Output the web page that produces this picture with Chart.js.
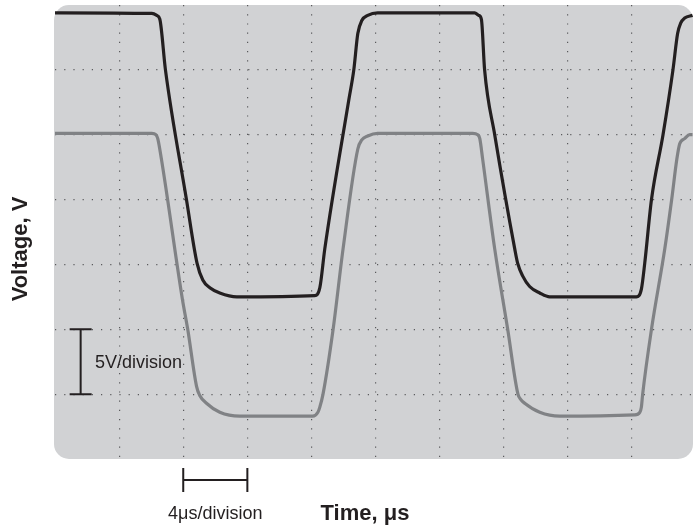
<!DOCTYPE html>
<html>
<head>
<meta charset="utf-8">
<script src="https://cdn.jsdelivr.net/npm/chart.js@4/dist/chart.umd.min.js"></script>
<style>
  html, body { margin: 0; padding: 0; background: #ffffff; }
  #wrap { width: 694px; height: 527px; }
</style>
</head>
<body>
<div id="wrap"><canvas id="scope"></canvas></div>
<script>
// time in microseconds, voltage in volts (4us/div, 5V/div)
var blackTime = [0, 6.04, 6.35, 6.54, 6.89, 8.20, 8.86, 9.22, 9.66, 10.28, 11.34, 16.2, 16.52, 16.83, 18.33, 18.64, 18.89, 19.14, 19.51, 20.13,
                 26.18, 26.43, 26.6, 26.8, 27.43, 28.68, 28.86, 29.18, 29.61, 30.24, 30.86, 36.27, 36.58, 36.79, 37.21, 37.93, 38.55, 38.84, 39.03, 39.28, 39.77];
var blackVolt = [34.4, 34.35, 34.2, 33.9, 30.0, 20.0, 15.1, 13.8, 13.2, 12.8, 12.5, 12.6, 13.2, 16.2, 27.7, 30.0, 32.8, 33.8, 34.2, 34.4,
                 34.4, 34.2, 33.9, 30.0, 25.0, 16.2, 15.1, 14.1, 13.3, 12.8, 12.5, 12.5, 13.1, 15.1, 20.0, 25.0, 30.0, 32.8, 33.6, 34.0, 34.2];

var grayTime = [0, 6.04, 6.29, 6.41, 6.64, 7.95, 8.28, 8.83, 9.03, 9.45, 10.28, 11.53, 16.08, 16.4, 16.52, 16.72, 17.35, 17.97, 18.89, 19.14, 19.51, 20.13,
                26.06, 26.37, 26.5, 26.68, 27.43, 28.24, 28.88, 29.05, 29.3, 30.24, 31.49, 36.16, 36.48, 36.58, 36.66, 37.21, 38.04, 38.47, 38.79, 38.97, 39.28, 39.59, 39.77];
var grayVolt = [25.1, 25.1, 25.0, 24.7, 23.1, 12.3, 10.0, 5.6, 4.9, 4.3, 3.6, 3.3, 3.3, 3.6, 4.0, 5.0, 10.0, 16.2, 23.9, 24.6, 24.9, 25.1,
                25.1, 25.0, 24.7, 23.1, 16.2, 10.0, 5.0, 4.6, 4.3, 3.6, 3.3, 3.4, 3.6, 4.0, 5.0, 10.0, 16.2, 20.0, 23.1, 24.3, 24.7, 25.0, 25.0];

var timeTicks = [0, 4, 8, 12, 16, 20, 24, 28, 32, 36];
var voltTicks = [0, 5, 10, 15, 20, 25, 30, 35];

function toPoints(xs, ys) {
    var pts = [];
    for (var i = 0; i < xs.length; i++) {
        pts.push({x: xs[i], y: ys[i]});
    }
    return pts;
}

// grey rounded screen behind the traces
var screenBg = {
    id: 'screenBg',
    beforeDraw: function(chart) {
        var a = chart.chartArea;
        var c = chart.ctx;
        c.save();
        c.fillStyle = '#d1d2d4';
        c.beginPath();
        c.roundRect(a.left - 1, a.top, a.right - a.left + 1, a.bottom - a.top, 15);
        c.fill();
        c.restore();
    }
};

// scale bars and axis labels
var labels = {
    id: 'labels',
    afterDraw: function(chart) {
        var c = chart.ctx;
        var xs = chart.scales.x;
        var ys = chart.scales.y;
        var a = chart.chartArea;
        c.save();
        c.strokeStyle = '#231f20';
        c.lineWidth = 2;

        // 5V/division bar
        var bx = xs.getPixelForValue(1.6);
        var y1 = ys.getPixelForValue(10);
        var y2 = ys.getPixelForValue(5);
        c.beginPath();
        c.moveTo(bx, y1); c.lineTo(bx, y2);
        c.moveTo(bx - 11, y1); c.lineTo(bx + 11, y1);
        c.moveTo(bx - 11, y2); c.lineTo(bx + 11, y2);
        c.stroke();

        // 4us/division bar
        var x1 = xs.getPixelForValue(8);
        var x2 = xs.getPixelForValue(12);
        var hy = a.bottom + 21;
        c.beginPath();
        c.moveTo(x1, hy); c.lineTo(x2, hy);
        c.moveTo(x1, hy - 12); c.lineTo(x1, hy + 12);
        c.moveTo(x2, hy - 12); c.lineTo(x2, hy + 12);
        c.stroke();

        c.fillStyle = '#231f20';
        c.font = '18px "Liberation Sans", Arial, sans-serif';
        c.textBaseline = 'middle';
        c.textAlign = 'left';
        c.fillText('5V/division', 95, (y1 + y2) / 2 + 1);
        c.textAlign = 'center';
        c.fillText('4\u03bcs/division', (x1 + x2) / 2, 514);

        c.font = 'bold 22px "Liberation Sans", Arial, sans-serif';
        c.fillText('Time, \u03bcs', 365, 514);
        c.translate(21, 249);
        c.rotate(-Math.PI / 2);
        c.fillText('Voltage, V', 0, 0);
        c.restore();
    }
};

function gridColor(list, lo, hi) {
    return function(ctx) {
        var v = ctx.tick ? ctx.tick.value : null;
        if (v === null || v <= lo || v >= hi || list.indexOf(v) < 0) return 'rgba(0,0,0,0)';
        return '#5a5a5c';
    };
}

var ctx = document.getElementById('scope').getContext('2d');

var chart = new Chart(ctx, {
    type: 'line',
    data: {
        datasets: [{
            label: 'Gate',
            data: toPoints(grayTime, grayVolt),
            borderColor: '#808285',
            borderWidth: 3.2,
            pointRadius: 0,
            cubicInterpolationMode: 'monotone',
            fill: false
        }, {
            label: 'Drain',
            data: toPoints(blackTime, blackVolt),
            borderColor: '#231f20',
            borderWidth: 3.2,
            pointRadius: 0,
            cubicInterpolationMode: 'monotone',
            fill: false
        }]
    },
    options: {
        responsive: true,
        maintainAspectRatio: false,
        animation: false,
        events: [],
        layout: {
            padding: {left: 55, right: 1, top: 5, bottom: 68}
        },
        plugins: {
            legend: {display: false},
            tooltip: {enabled: false}
        },
        scales: {
            x: {
                type: 'linear',
                min: 0,
                max: 39.8,
                ticks: {display: false, stepSize: 4},
                border: {display: false, dash: [1.2, 8]},
                grid: {
                    drawTicks: false,
                    lineWidth: 1.2,
                    color: gridColor(timeTicks, 0, 39.8)
                },
                afterBuildTicks: function(scale) {
                    scale.ticks = timeTicks.map(function(v) { return {value: v}; });
                }
            },
            y: {
                min: 0,
                max: 35,
                ticks: {display: false, stepSize: 5},
                border: {display: false, dash: [1.2, 8]},
                grid: {
                    drawTicks: false,
                    lineWidth: 1.2,
                    color: gridColor(voltTicks, 0, 35)
                },
                afterBuildTicks: function(scale) {
                    scale.ticks = voltTicks.map(function(v) { return {value: v}; });
                }
            }
        }
    },
    plugins: [screenBg, labels]
});
</script>
</body>
</html>
